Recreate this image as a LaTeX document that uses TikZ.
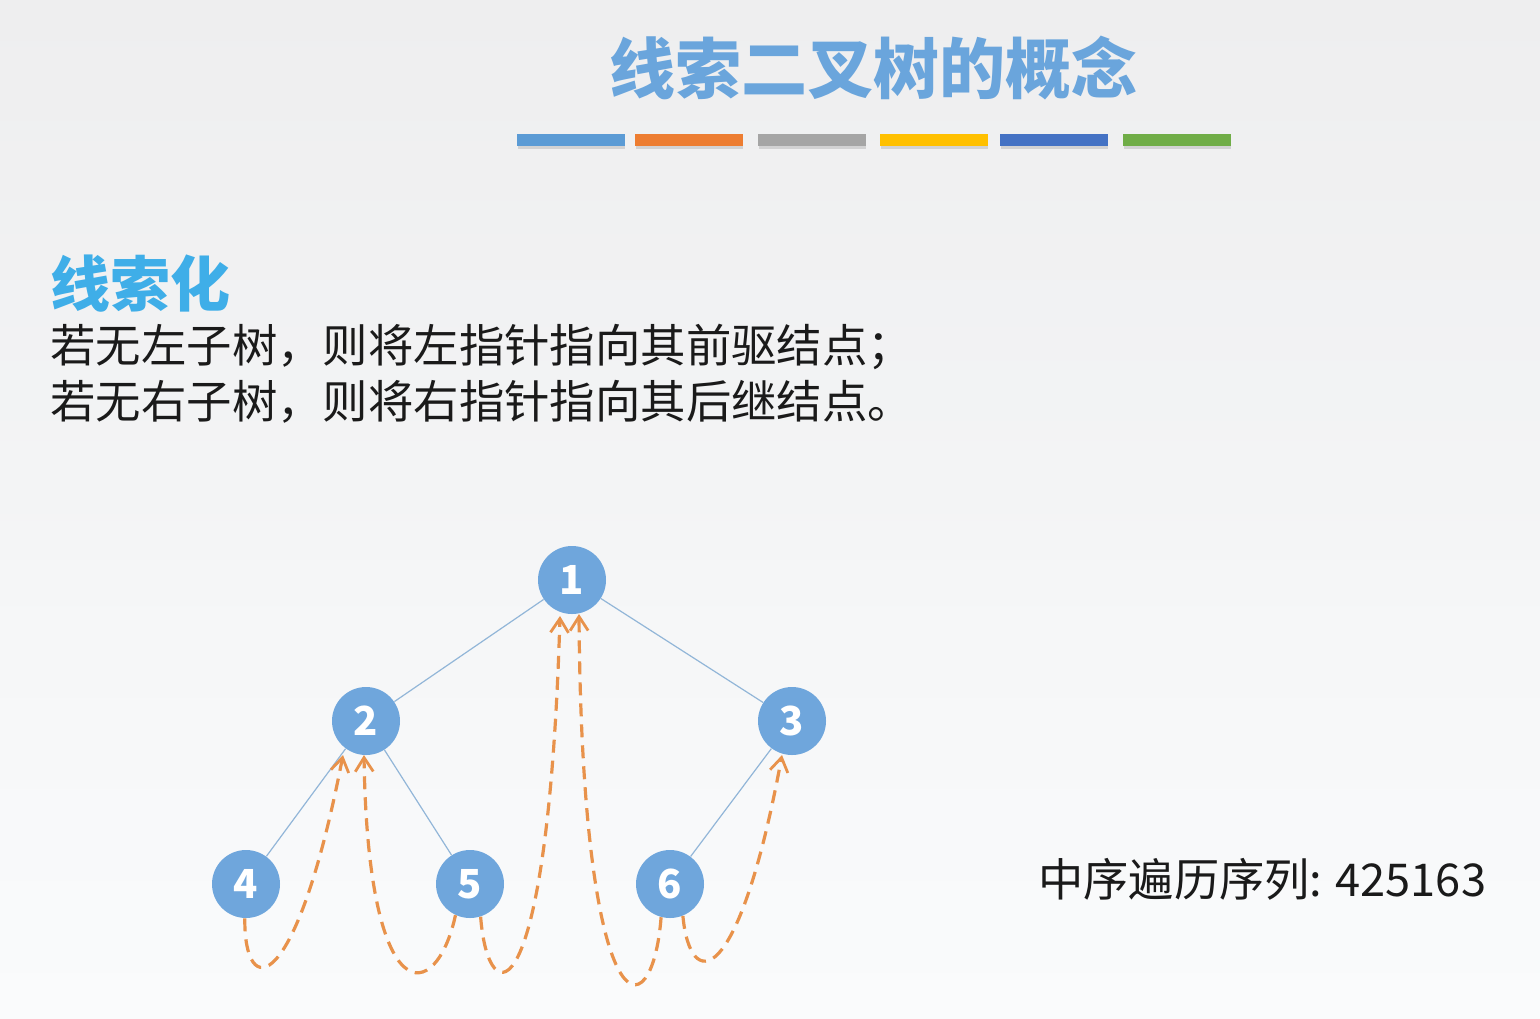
\documentclass[tikz,border=0pt]{standalone}
\usepackage{fontspec}
\setmainfont{Noto Sans}
\newfontfamily\cjk{Noto Sans CJK SC}
\usetikzlibrary{arrows.meta}
\definecolor{titleblue}{HTML}{6AA5DC}
\definecolor{subcyan}{HTML}{3FAEE8}
\definecolor{nodefill}{HTML}{6FA6DC}
\definecolor{edgecol}{HTML}{92B6D8}
\definecolor{thread}{HTML}{E8924B}
\definecolor{txt}{HTML}{1A1A1A}
\definecolor{barA}{HTML}{5B9BD5}
\definecolor{barB}{HTML}{ED7D31}
\definecolor{barC}{HTML}{A5A5A5}
\definecolor{barD}{HTML}{FFC000}
\definecolor{barE}{HTML}{4472C4}
\definecolor{barF}{HTML}{70AD47}
\tikzset{
  treenode/.style={circle, fill=nodefill, minimum size=34pt, inner sep=0pt,
    text=white, font=\cjk\bfseries\fontsize{20}{20}\selectfont},
  treeedge/.style={draw=edgecol, line width=0.6pt},
  threadline/.style={draw=thread, line width=1.6pt, dash pattern=on 6.5pt off 4pt,
    -{Straight Barb[length=7pt,width=9pt,line width=1.4pt]}},
  colbar/.style={minimum width=54pt, minimum height=6pt, inner sep=0pt},
}
\begin{document}
\begin{tikzpicture}[x=0.5pt,y=-0.5pt]
\useasboundingbox (0,0) rectangle (1540,1018);
\shade[top color={rgb,255:red,238;green,238;blue,239}, bottom color={rgb,255:red,244;green,245;blue,246}] (0,0) rectangle (1540,560);
\shade[top color={rgb,255:red,245;green,246;blue,247}, bottom color={rgb,255:red,250;green,251;blue,252}] (0,560) rectangle (1540,1018);

% title
\node[anchor=center, text=titleblue, font=\cjk\bfseries\fontsize{33}{33}\selectfont] (title) at (873,68) {线索二叉树的概念};

% colour bars
\foreach \cx/\c [count=\i] in {570.5/barA, 689/barB, 812/barC, 933.5/barD, 1054/barE, 1177/barF}{
  \fill[black, opacity=0.12] (\cx-53,136) rectangle (\cx+54,149);
  \node[colbar, fill=\c] (bar\i) at (\cx,140) {};
}

% subheading and text
\node[anchor=base west, inner sep=0pt, text=subcyan, font=\cjk\bfseries\fontsize{30}{30}\selectfont] (sub) at (50,306) {线索化};
\node[anchor=base west, inner sep=0pt, text=txt, font=\cjk\fontsize{22.7}{22.7}\selectfont] (line1) at (50,362) {若无左子树，则将左指针指向其前驱结点；};
\node[anchor=base west, inner sep=0pt, text=txt, font=\cjk\fontsize{22.7}{22.7}\selectfont] (line2) at (50,418) {若无右子树，则将右指针指向其后继结点。};

% tree
\node[treenode] (n1) at (572,580) {1};
\node[treenode] (n2) at (366,721) {2};
\node[treenode] (n3) at (792,721) {3};
\node[treenode] (n4) at (246,884) {4};
\node[treenode] (n5) at (470,884) {5};
\node[treenode] (n6) at (670,884) {6};
\draw[treeedge] (n1) -- (n2);
\draw[treeedge] (n1) -- (n3);
\draw[treeedge] (n2) -- (n4);
\draw[treeedge] (n2) -- (n5);
\draw[treeedge] (n3) -- (n6);

% thread targets
\coordinate (t2a) at (343,755);
\coordinate (t2b) at (364,755);
\coordinate (t1a) at (560,616);
\coordinate (t1b) at (579,614);
\coordinate (t3a) at (782,755);

\draw[threadline] (n4.-92) .. controls (244,1002) and (296,997) .. (t2a);
\draw[threadline] (n5.-115) .. controls (436,1005) and (368,1015) .. (t2b);
\draw[threadline] (n5.-72) .. controls (488,1015) and (548,1020) .. (t1a);
\draw[threadline] (n6.-105) .. controls (652,1035) and (582,1035) .. (t1b);
\draw[threadline] (n6.-68) .. controls (690,992) and (738,992) .. (t3a);

% in-order sequence
\node[anchor=base west, inner sep=0pt, text=txt, font=\cjk\fontsize{22.6}{22.6}\selectfont] (seq) at (1038,896) {中序遍历序列: 425163};
\end{tikzpicture}
\end{document}
